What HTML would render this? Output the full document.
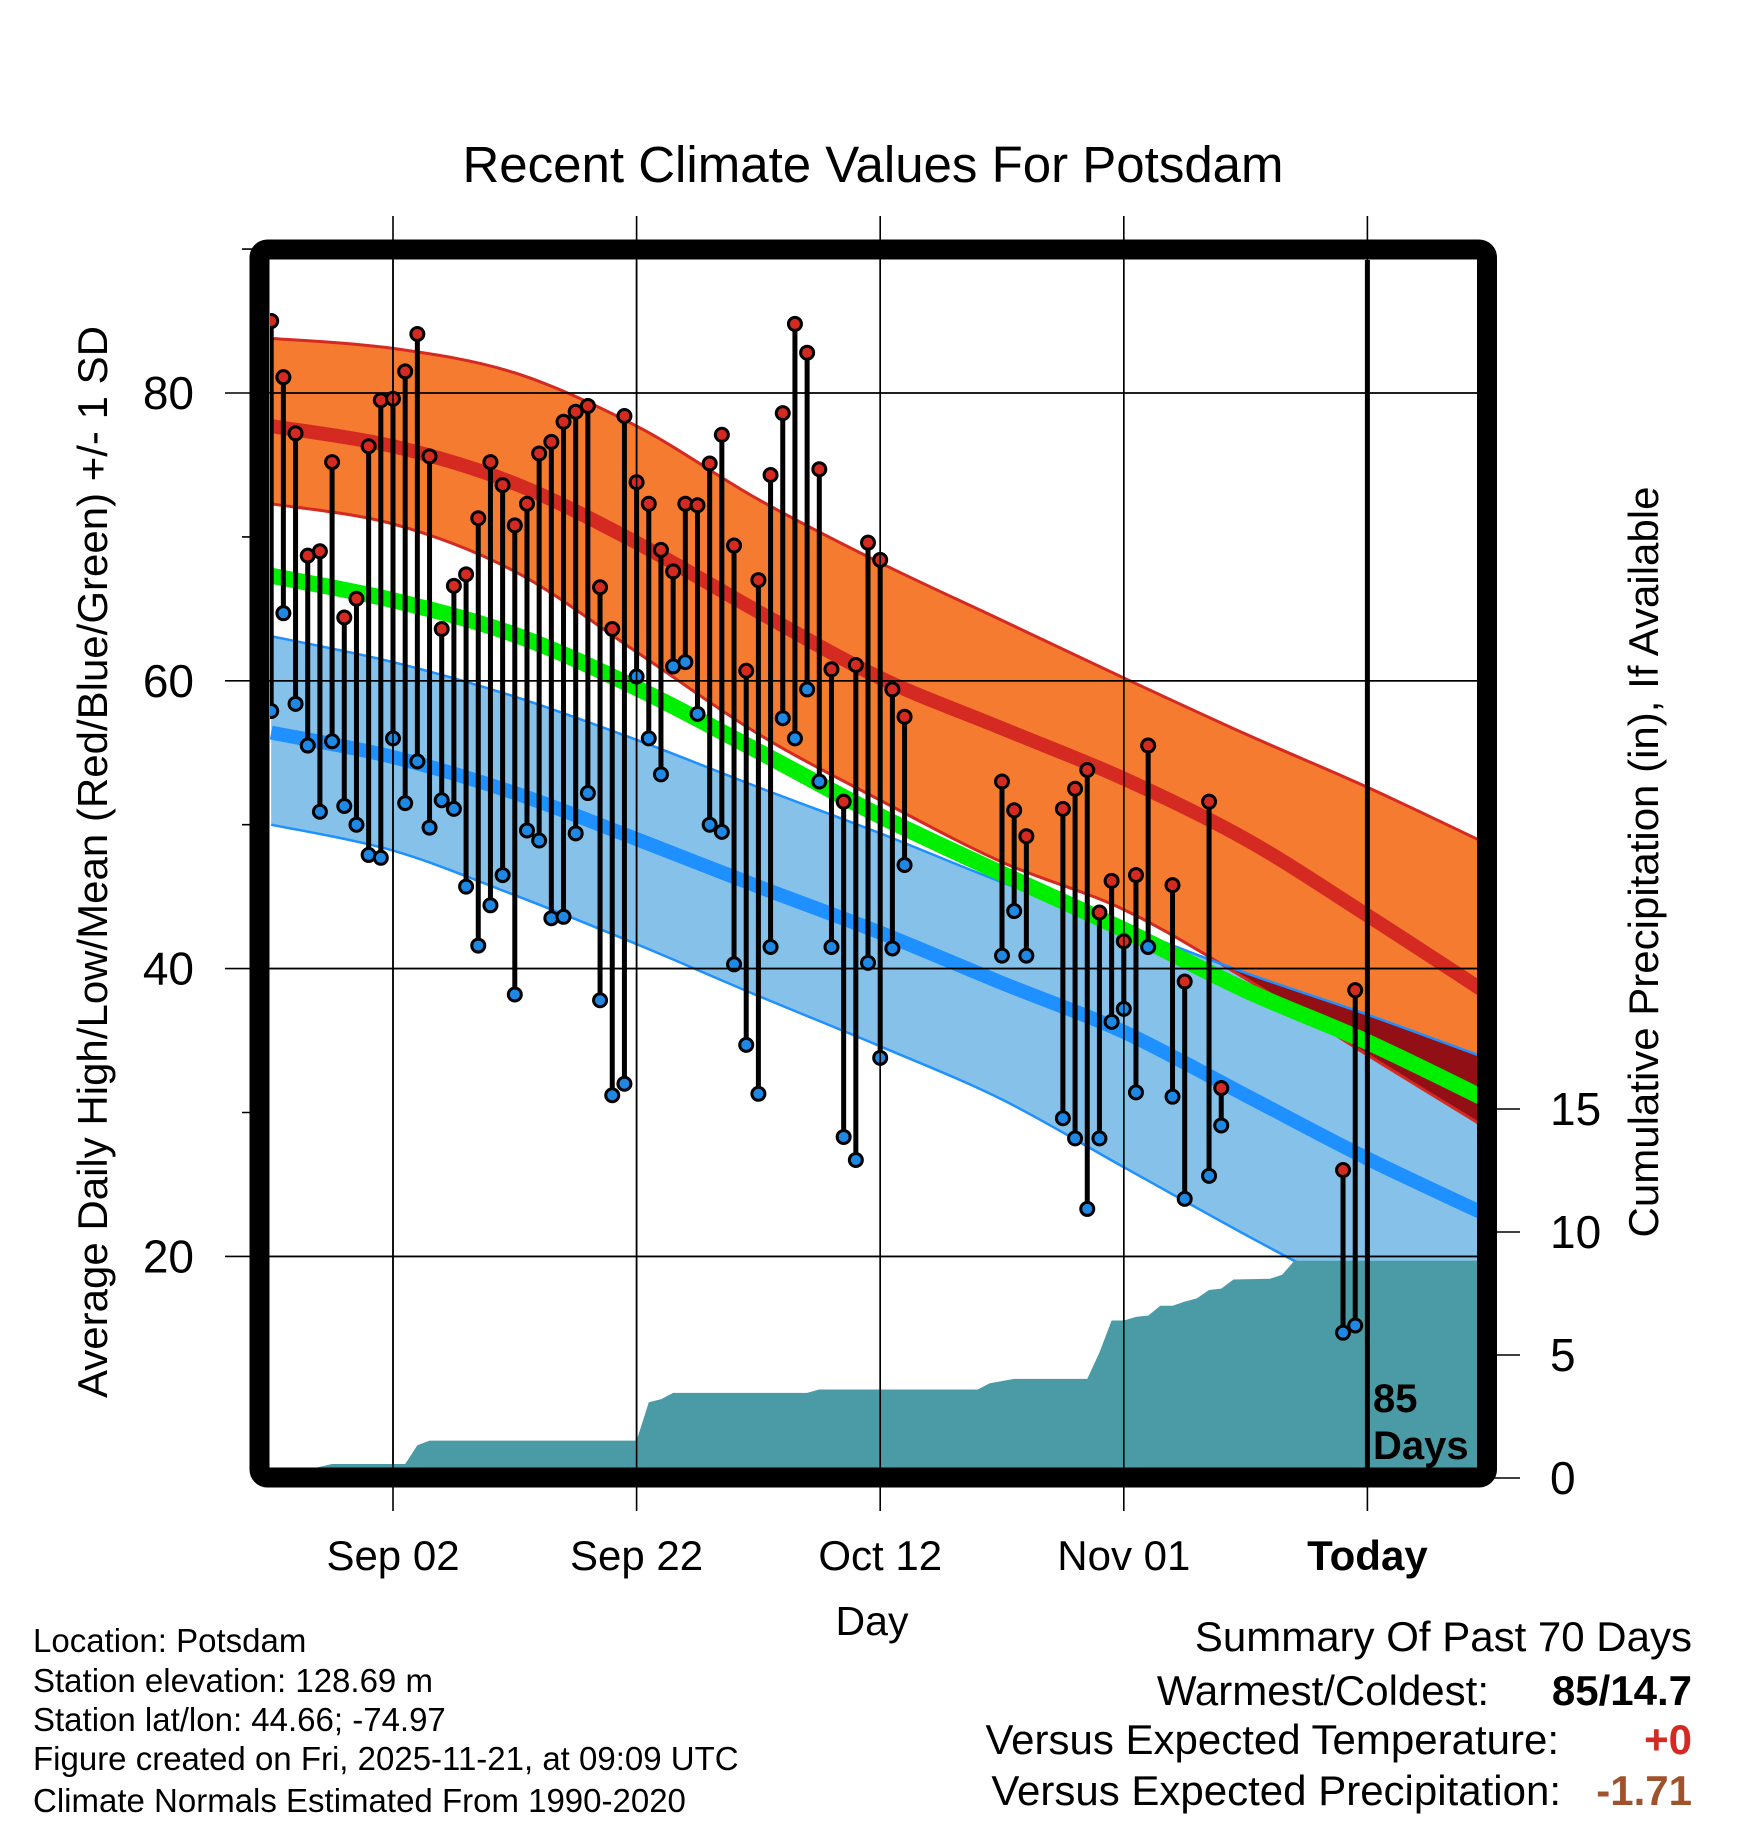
<!DOCTYPE html>
<html><head><meta charset="utf-8"><style>
html,body{margin:0;padding:0;background:#fff;}
svg{display:block;font-family:"Liberation Sans",Arial,sans-serif;}
</style></head><body>
<svg id="chart" width="1748" height="1828" viewBox="0 0 1748 1828" xmlns="http://www.w3.org/2000/svg">
<defs>
<clipPath id="plotClip"><rect x="270" y="260" width="1208" height="1208"/></clipPath>
<clipPath id="highClip"><path id="highClipPath" d=""/></clipPath>
</defs>
<text x="873" y="182" font-size="51" text-anchor="middle">Recent Climate Values For Potsdam</text>
<g id="plot" clip-path="url(#plotClip)"></g>
<g id="axes"></g>
<rect x="259.5" y="249.5" width="1227.5" height="1228" rx="8" fill="none" stroke="#000" stroke-width="20"/>
<text transform="translate(107,862) rotate(-90)" font-size="42" text-anchor="middle">Average Daily High/Low/Mean (Red/Blue/Green) +/- 1 SD</text>
<text transform="translate(1658,862) rotate(-90)" font-size="42" text-anchor="middle">Cumulative Precipitation (in), If Available</text>
<text x="872" y="1635" font-size="41" text-anchor="middle">Day</text>
<text x="1373" y="1412" font-size="40" font-weight="bold">85</text>
<text x="1373" y="1459" font-size="40" font-weight="bold">Days</text>
<g font-size="33">
<text x="33" y="1652">Location: Potsdam</text>
<text x="33" y="1692">Station elevation: 128.69 m</text>
<text x="33" y="1731">Station lat/lon: 44.66; -74.97</text>
<text x="33" y="1770">Figure created on Fri, 2025-11-21, at 09:09 UTC</text>
<text x="33" y="1812">Climate Normals Estimated From 1990-2020</text>
</g>
<g font-size="42" text-anchor="end">
<text x="1692" y="1651">Summary Of Past 70 Days</text>
<text x="1489" y="1705">Warmest/Coldest:</text>
<text x="1692" y="1705" font-weight="bold">85/14.7</text>
<text x="1559" y="1754">Versus Expected Temperature:</text>
<text x="1692" y="1754" font-weight="bold" fill="#d42a22">+0</text>
<text x="1561" y="1805">Versus Expected Precipitation:</text>
<text x="1692" y="1805" font-weight="bold" fill="#a0522d">-1.71</text>
</g>
</svg>
<script>
// ---- data ----
const highDays = [-10,-9,-8,-7,-6,-5,-4,-3,-2,-1,0,1,2,3,4,5,6,7,8,9,10,11,12,13,14,15,16,17,18,19,20,21,22,23,24,25,26,27,28,29,30,31,32,33,34,35,36,37,38,39,40,41,42,50,51,52,55,56,57,58,59,60,61,62,64,65,67,68,78,79];
const highs = [85.0,81.1,77.2,68.7,69.0,75.2,64.4,65.7,76.3,79.5,79.6,81.5,84.1,75.6,63.6,66.6,67.4,71.3,75.2,73.6,70.8,72.3,75.8,76.6,78.0,78.7,79.1,66.5,63.6,78.4,73.8,72.3,69.1,67.6,72.3,72.2,75.1,77.1,69.4,60.7,67.0,74.3,78.6,84.8,82.8,74.7,60.8,51.6,61.1,69.6,68.4,59.4,57.5,53.0,51.0,49.2,51.1,52.5,53.8,43.9,46.1,41.9,46.5,55.5,45.8,39.1,51.6,31.7,26.0,38.5];
const lows = [57.9,64.7,58.4,55.5,50.9,55.8,51.3,50.0,47.9,47.7,56.0,51.5,54.4,49.8,51.7,51.1,45.7,41.6,44.4,46.5,38.2,49.6,48.9,43.5,43.6,49.4,52.2,37.8,31.2,32.0,60.3,56.0,53.5,61.0,61.3,57.7,50.0,49.5,40.3,34.7,31.3,41.5,57.4,56.0,59.4,53.0,41.5,28.3,26.7,40.4,33.8,41.4,47.2,40.9,44.0,40.9,29.6,28.2,23.3,28.2,36.3,37.2,31.4,41.5,31.1,24.0,25.6,29.1,14.7,15.2];
const normDays = [-10,0,10,20,30,40,50,60,70,80,90];
const highUpper = [83.8,83.1,81.4,77.7,72.6,68.2,64.2,60.2,56.3,52.6,48.6];
const highMean = [77.7,76.3,73.7,69.6,64.8,60.2,56.7,53.2,49.0,43.7,38.2];
const highLower = [72.3,70.9,67.6,62.0,56.3,51.7,47.4,44.1,39.3,34.0,28.8];
const meanTemp = [67.3,65.6,63.2,59.5,55.1,50.6,46.6,42.7,38.5,34.9,30.8];
const lowUpper = [63.1,61.3,58.9,55.9,52.6,49.4,46.0,42.9,39.7,36.8,33.7];
const lowMean = [56.4,54.7,52.2,49.0,45.7,42.5,39.0,35.6,31.2,26.8,22.8];
const lowLower = [50.0,48.2,45.1,41.7,38.1,34.6,30.9,26.2,21.5,17.0,12.5];
const precipDays = [-10,-5,1,2,3,20,21,22,23,34,35,48,49,51,57,58,59,60,61,62,63,64,65,66,67,68,69,72,73,74,90];
const precipVals = [0,0.57,0.57,1.33,1.52,1.52,3.08,3.2,3.46,3.46,3.6,3.6,3.85,4.03,4.03,5.1,6.4,6.4,6.55,6.6,7.0,7.0,7.17,7.3,7.64,7.7,8.07,8.1,8.26,8.83,8.83];
const xTickDays = [0,20,40,60,80];
const xTickLabels = ["Sep 02","Sep 22","Oct 12","Nov 01","Today"];
const yTicks = [20,40,60,80];
const yMinorTicks = [30,50,70,90];
const pTicks = [0,5,10,15];

// ---- scales ----
const X = d => 393 + d*12.18;
const Y = v => 393 + (80 - v)*14.39;
const P = p => 1478 - p*24.6;
const NS = "http://www.w3.org/2000/svg";
function mk(tag, attrs, parent){ const e=document.createElementNS(NS,tag); for(const k in attrs) e.setAttribute(k,attrs[k]); parent.appendChild(e); return e; }
function smoothPts(days, vals){
  const pts = days.map((d,i)=>[X(d),Y(vals[i])]);
  let s = "M"+pts[0][0]+","+pts[0][1];
  for(let i=0;i<pts.length-1;i++){
    const p0=pts[Math.max(0,i-1)],p1=pts[i],p2=pts[i+1],p3=pts[Math.min(pts.length-1,i+2)];
    const c1=[p1[0]+(p2[0]-p0[0])/6,p1[1]+(p2[1]-p0[1])/6];
    const c2=[p2[0]-(p3[0]-p1[0])/6,p2[1]-(p3[1]-p1[1])/6];
    s+=" C"+c1[0]+","+c1[1]+" "+c2[0]+","+c2[1]+" "+p2[0]+","+p2[1];
  }
  return s;
}
function reversePath(days, vals){ return smoothPts(days.slice().reverse(), vals.slice().reverse()).replace(/^M/,"L"); }
function band(up, lo){ return smoothPts(normDays, up)+" "+reversePath(normDays, lo)+" Z"; }

const plot = document.getElementById("plot");
const axes = document.getElementById("axes");

const hb = mk("path",{d:band(highUpper,highLower),fill:"#f47b2f"},plot);


document.getElementById("highClipPath").setAttribute("d", band(highUpper,highLower));
const lb = mk("path",{d:band(lowUpper,lowLower),fill:"#85c1e9"},plot);


const ov = mk("path",{d:band(lowUpper,lowLower),fill:"#930f16","clip-path":"url(#highClip)"},plot);



const edges = [[highUpper,"#d42a22",3,'high-upper-line'],[highLower,"#d42a22",3,'high-lower-line'],[lowUpper,"#1e90ff",2.5,'low-upper-line'],[lowLower,"#1e90ff",2.5,'low-lower-line']];
edges.forEach(e=>{
  const l = mk("path",{d:smoothPts(normDays,e[0]),fill:"none",stroke:e[1],"stroke-width":e[2]},plot);
  
  
});
const means = [[highMean,"#d42a22",14,'mean-high-line'],[lowMean,"#1e90ff",14,'mean-low-line'],[meanTemp,"#00ee00",16,'mean-temp-line']];
means.forEach(e=>{
  const l = mk("path",{d:smoothPts(normDays,e[0]),fill:"none",stroke:e[1],"stroke-width":e[2]},plot);
  
  
});

yTicks.forEach(v=>{
  const g = mk("line",{x1:225,x2:1478,y1:Y(v),y2:Y(v),stroke:"#000","stroke-width":1.6},axes);
  
  
  const t = mk("text",{x:194,y:Y(v)+16,"font-size":46,"text-anchor":"end"},axes);
  t.textContent = v;
  
  
});
yMinorTicks.forEach(v=>{
  const g = mk("line",{x1:242,x2:262,y1:Y(v),y2:Y(v),stroke:"#000","stroke-width":1.6},axes);
  
  
});
xTickDays.forEach((d,i)=>{
  const g = mk("line",{x1:X(d),x2:X(d),y1:216,y2:1511,stroke:"#000","stroke-width":1.6},axes);
  
  
  const t = mk("text",{x:X(d),y:1570,"font-size":42,"text-anchor":"middle","font-weight":i===4?"bold":"normal"},axes);
  t.textContent = xTickLabels[i];
  
  
});
pTicks.forEach(p=>{
  const g = mk("line",{x1:1490,x2:1520,y1:P(p),y2:P(p),stroke:"#000","stroke-width":1.6},axes);
  
  
  const t = mk("text",{x:1550,y:P(p)+16,"font-size":46},axes);
  t.textContent = p;
  
  
});
yTicks.forEach(v=>{ const g=mk("line",{x1:270,x2:1478,y1:Y(v),y2:Y(v),stroke:"#000","stroke-width":1.6},plot);
  
   });
xTickDays.forEach(d=>{ const g=mk("line",{x1:X(d),x2:X(d),y1:260,y2:1468,stroke:"#000","stroke-width":1.6},plot);
  
   });

let pd = "M"+X(precipDays[0])+","+P(0);
precipDays.forEach((d,i)=>{ pd += " L"+X(d)+","+P(precipVals[i]); });
pd += " L"+X(precipDays[precipDays.length-1])+","+P(0)+" Z";
const pa = mk("path",{d:pd,fill:"#4a9ba5"},plot);



highDays.forEach((d,i)=>{
  const s = mk("line",{x1:X(d),x2:X(d),y1:Y(highs[i]),y2:Y(lows[i]),stroke:"#000","stroke-width":5},plot);
  
  
});
highDays.forEach((d,i)=>{
  const h = mk("circle",{cx:X(d),cy:Y(highs[i]),r:6.5,fill:"#d42a22",stroke:"#000","stroke-width":3},plot);
  
  
  const l = mk("circle",{cx:X(d),cy:Y(lows[i]),r:6.5,fill:"#1e88e5",stroke:"#000","stroke-width":3},plot);
  
  
});
const today = mk("line",{x1:X(80),x2:X(80),y1:255,y2:1470,stroke:"#000","stroke-width":5},plot);


</script>
</body></html>
